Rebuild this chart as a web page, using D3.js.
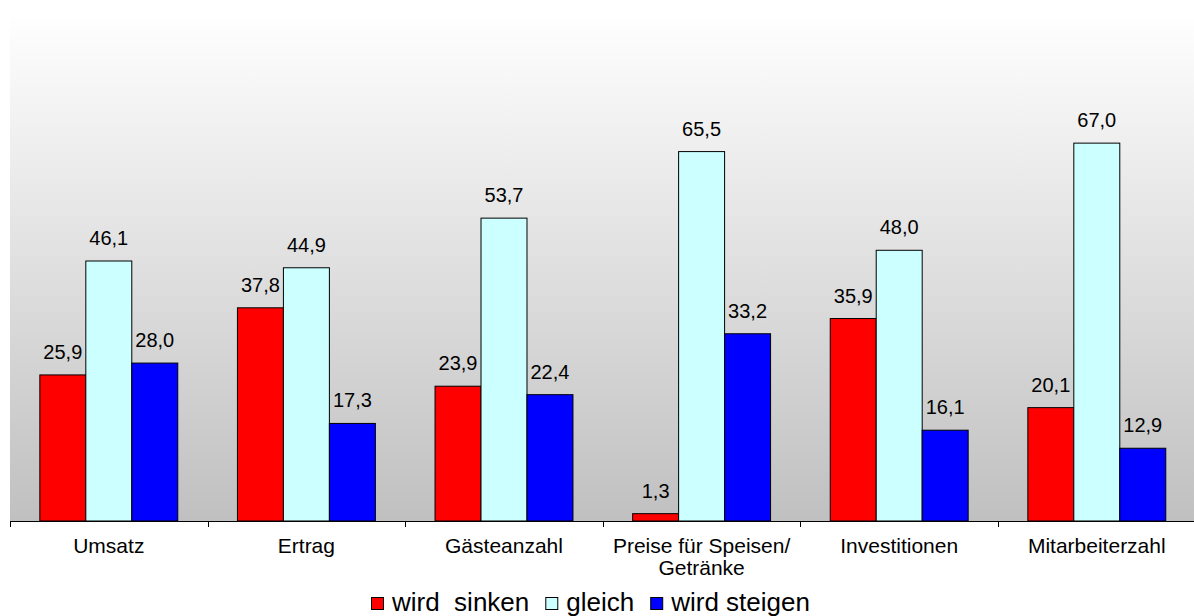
<!DOCTYPE html>
<html>
<head>
<meta charset="utf-8">
<title>Erwartungen</title>
<style>
  body { margin: 0; background: #fff; font-family: Arial, "Liberation Sans", sans-serif; }
  svg text { fill: #000; }
</style>
<script src="https://d3js.org/d3.v7.min.js"></script>
</head>
<body>
<script>
// data
var categories = ["Umsatz", "Ertrag", "Gästeanzahl", "Preise für Speisen/|Getränke", "Investitionen", "Mitarbeiterzahl"];
var seriesNames = ["wird  sinken", "gleich", "wird steigen"];
var sinken = [25.9, 37.8, 23.9, 1.3, 35.9, 20.1];
var gleich = [46.1, 44.9, 53.7, 65.5, 48.0, 67.0];
var steigen = [28.0, 17.3, 22.4, 33.2, 16.1, 12.9];
var yMax = 90.25;

var colors = ["#ff0000", "#ccffff", "#0000ff"];
var series = [sinken, gleich, steigen];

var width = 1194, height = 616;
var plotLeft = 10, plotTop = 12, plotBottom = 521, plotRight = 1195.6;

var svg = d3.select("body").append("svg")
    .attr("width", width)
    .attr("height", height);

// background gradient of the plot area
var grad = svg.append("defs").append("linearGradient")
    .attr("id", "bg").attr("x1", 0).attr("y1", 0).attr("x2", 0).attr("y2", 1);
grad.append("stop").attr("offset", "0%").attr("stop-color", "#ffffff");
grad.append("stop").attr("offset", "100%").attr("stop-color", "#c0c0c0");

svg.append("rect")
    .attr("x", plotLeft).attr("y", plotTop)
    .attr("width", plotRight - plotLeft).attr("height", plotBottom - plotTop)
    .attr("fill", "url(#bg)");

var x = d3.scaleBand().domain(categories).range([plotLeft, plotRight])
    .paddingInner(0.302).paddingOuter(0.151);
var xs = d3.scaleBand().domain(d3.range(3)).range([0, x.bandwidth()]);
var y = d3.scaleLinear().domain([0, yMax]).range([plotBottom, plotTop]);

// bars
var groups = svg.selectAll(".grp").data(categories).enter().append("g")
    .attr("class", "grp")
    .attr("transform", function(d) { return "translate(" + x(d) + ",0)"; });

function rows(d, i) {
    return series.map(function(s, k) { return { k: k, v: s[i] }; });
}

groups.selectAll("rect")
    .data(rows)
    .enter().append("rect")
    .attr("x", function(d) { return xs(d.k); })
    .attr("y", function(d) { return y(d.v); })
    .attr("width", xs.bandwidth())
    .attr("height", function(d) { return plotBottom - y(d.v); })
    .attr("fill", function(d) { return colors[d.k]; })
    .attr("stroke", "#000")
    .attr("stroke-width", 1);

groups.selectAll("text.val")
    .data(rows)
    .enter().append("text")
    .attr("class", "val")
    .attr("x", function(d) { return xs(d.k) + xs.bandwidth() / 2; })
    .attr("y", function(d) { return y(d.v) - 16; })
    .attr("text-anchor", "middle")
    .style("font-size", "20px")
    .text(function(d) { return d.v.toFixed(1).replace(".", ","); });

// axis
var step = x.step();
var ticks = d3.range(categories.length + 1).map(function(i) { return plotLeft + i * step; });
svg.append("line")
    .attr("x1", plotLeft).attr("x2", width)
    .attr("y1", plotBottom + 0.5).attr("y2", plotBottom + 0.5)
    .attr("stroke", "#000");
svg.selectAll(".tick").data(ticks).enter().append("line")
    .attr("x1", function(d) { return Math.round(d) + 0.5; })
    .attr("x2", function(d) { return Math.round(d) + 0.5; })
    .attr("y1", plotBottom).attr("y2", plotBottom + 6)
    .attr("stroke", "#000");

svg.selectAll(".cat").data(categories).enter().append("text")
    .attr("class", "cat")
    .attr("text-anchor", "middle")
    .attr("x", function(d) { return x(d) + x.bandwidth() / 2; })
    .attr("y", 553)
    .style("font-size", "21px")
    .each(function(d) {
        var t = d3.select(this);
        d.split("|").forEach(function(l, i) {
            t.append("tspan")
                .attr("x", x(d) + x.bandwidth() / 2)
                .attr("dy", i === 0 ? 0 : 22)
                .text(l);
        });
    });

// legend
var legend = svg.append("g");
var lx = 371;
seriesNames.forEach(function(name, i) {
    legend.append("rect")
        .attr("x", lx + 0.5).attr("y", 597.5)
        .attr("width", 12).attr("height", 12)
        .attr("fill", colors[i]).attr("stroke", "#000");
    var t = legend.append("text")
        .attr("x", lx + 21).attr("y", 611)
        .style("font-size", "26px")
        .style("white-space", "pre")
        .text(name);
    lx += 21 + t.node().getComputedTextLength() + 16;
});
</script>
</body>
</html>
